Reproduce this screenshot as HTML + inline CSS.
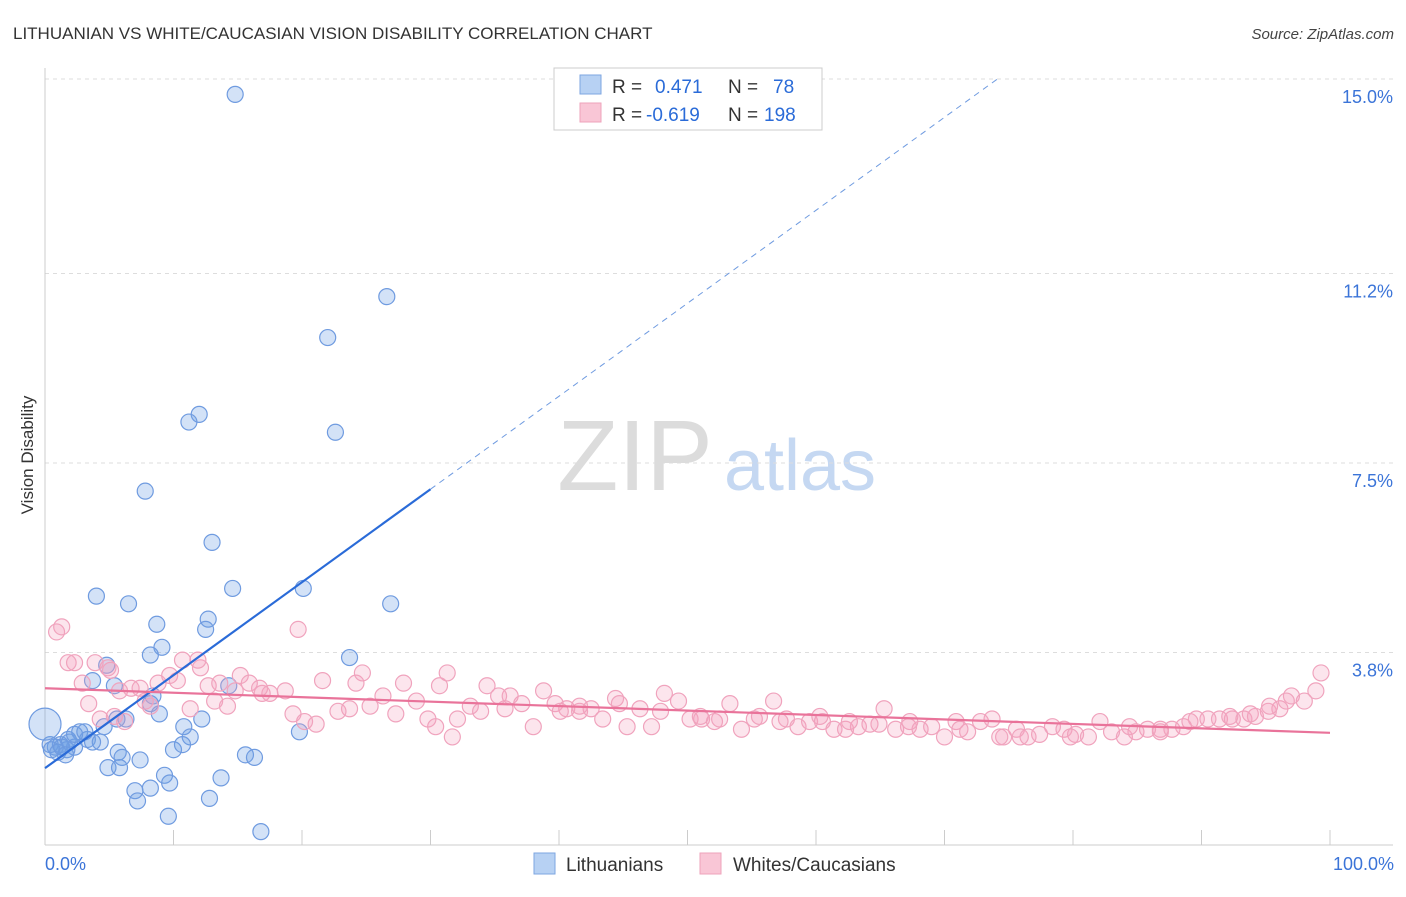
<!DOCTYPE html>
<html><head><meta charset="utf-8"><style>
body{margin:0;background:#fff;font-family:"Liberation Sans",sans-serif;}
svg text{font-family:"Liberation Sans",sans-serif;}
</style></head><body>
<svg id="chart" width="1406" height="892" xmlns="http://www.w3.org/2000/svg">
<text x="13" y="39" font-size="17" fill="#333">LITHUANIAN VS WHITE/CAUCASIAN VISION DISABILITY CORRELATION CHART</text>
<text x="1394" y="39" font-size="15" fill="#444" text-anchor="end" font-style="italic">Source: ZipAtlas.com</text>
<g>
<text x="635" y="490" font-size="100" fill="#dcdcdc" font-family="Liberation Serif" text-anchor="middle">ZIP</text>
<text x="800" y="490" font-size="72" fill="#c5d8f2" text-anchor="middle">atlas</text>
</g>
<g id="grid"></g>
<g id="axes"></g>
<g id="blue"></g>
<g id="pink"></g>
<g id="lines"></g>
<text transform="translate(33,455) rotate(-90)" font-size="17" fill="#333" text-anchor="middle">Vision Disability</text>
<g>
<rect x="554" y="68" width="268" height="62" fill="#fff" stroke="#ccc"/>
<rect x="580" y="75" width="21" height="19" fill="#b7d1f3" stroke="#7ea6e0"/>
<rect x="580" y="103" width="21" height="19" fill="#f9c6d6" stroke="#eea3bb"/>
<text x="612" y="93" font-size="19" fill="#333">R =</text>
<text x="655" y="93" font-size="19" fill="#2a6bd8">0.471</text>
<text x="728" y="93" font-size="19" fill="#333">N =</text>
<text x="773" y="93" font-size="19" fill="#2a6bd8">78</text>
<text x="612" y="121" font-size="19" fill="#333">R =</text>
<text x="646" y="121" font-size="19" fill="#2a6bd8">-0.619</text>
<text x="728" y="121" font-size="19" fill="#333">N =</text>
<text x="764" y="121" font-size="19" fill="#2a6bd8">198</text>
</g>
<g>
<rect x="534" y="853" width="21" height="21" fill="#b7d1f3" stroke="#7ea6e0"/>
<text x="566" y="871" font-size="19" fill="#333">Lithuanians</text>
<rect x="700" y="853" width="21" height="21" fill="#f9c6d6" stroke="#eea3bb"/>
<text x="733" y="871" font-size="19" fill="#333">Whites/Caucasians</text>
</g>
<text x="45" y="870" font-size="18" fill="#3b74d8">0.0%</text>
<text x="1394" y="870" font-size="18" fill="#3b74d8" text-anchor="end">100.0%</text>
</svg>
<script>
const yTicks=[15.0,11.2,7.5,3.8];
const yTickLabels=["15.0%","11.2%","7.5%","3.8%"];
const xTicks=[0,10,20,30,40,50,60,70,80,90,100];
const blueX=[14.8,26.6,22.0,12.0,11.2,22.6,7.8,13.0,14.6,20.1,26.9,4.0,6.5,8.7,12.7,12.5,9.1,8.2,23.7,4.8,3.7,5.4,8.4,8.2,8.9,14.3,5.6,6.3,12.2,10.8,11.3,4.6,19.8,1.2,1.8,2.3,0.8,2.7,3.3,4.3,1.7,5.7,6.0,7.4,10.0,10.7,15.6,16.3,4.9,5.8,9.3,13.7,9.7,8.2,7.0,7.2,12.8,9.6,16.8,0.4,0.5,1.0,1.3,1.9,2.3,3.1,3.7,1.6,0];
const blueY=[14.7,10.75,9.95,8.45,8.3,8.1,6.95,5.95,5.05,5.05,4.75,4.9,4.75,4.35,4.45,4.25,3.9,3.75,3.7,3.55,3.25,3.15,2.95,2.8,2.6,3.15,2.5,2.5,2.5,2.35,2.15,2.35,2.25,2.0,2.1,1.95,1.95,2.25,2.1,2.05,1.9,1.85,1.75,1.7,1.9,2.0,1.8,1.75,1.55,1.55,1.4,1.35,1.25,1.15,1.1,0.9,0.95,0.6,0.3,2.0,1.9,1.85,1.95,2.05,2.2,2.25,2.05,1.8,2.4];
const pinkX=[0.9,1.3,1.8,2.3,2.9,3.4,3.9,4.3,4.9,5.4,5.8,6.2,6.7,7.4,7.8,8.2,8.8,9.7,10.3,10.7,11.3,12.1,12.7,13.2,13.6,14.2,14.8,15.2,15.9,16.9,17.5,18.7,19.3,19.7,20.2,21.1,21.6,22.8,23.7,24.2,24.7,25.3,26.3,27.3,27.9,28.9,29.8,30.4,30.7,31.3,31.7,32.1,33.1,34.4,35.3,36.2,37.1,38.0,38.8,39.7,40.6,41.6,42.5,43.4,44.4,45.3,46.3,47.2,48.2,49.3,50.2,51.1,52.1,53.3,54.2,55.2,56.7,57.7,58.6,59.5,60.5,61.4,62.3,63.3,64.2,65.3,66.2,67.2,68.1,69.0,70.0,70.9,71.8,72.8,73.7,74.6,75.6,76.5,77.4,78.4,79.3,80.2,81.2,82.1,83.0,84.0,84.9,85.8,86.8,87.7,88.6,89.6,90.5,91.4,92.4,93.3,94.2,95.2,96.1,97.0,98.0,98.9,99.3,40.1,44.7,51.0,55.6,60.3,62.6,67.3,71.2,75.9,79.8,84.4,89.1,93.8,96.6,47.9,52.5,57.2,64.9,74.3,86.8,92.2,95.3,41.6,33.9,35.8,16.7,11.9,5.1];
const pinkY=[4.2,4.3,3.6,3.6,3.2,2.8,3.6,2.5,3.5,2.55,3.05,2.45,3.1,3.1,2.85,2.75,3.2,3.35,3.25,3.65,2.7,3.5,3.15,2.85,3.2,2.75,3.05,3.35,3.2,3.0,3.0,3.05,2.6,4.25,2.45,2.4,3.25,2.65,2.7,3.2,3.4,2.75,2.95,2.6,3.2,2.85,2.5,2.35,3.15,3.4,2.15,2.5,2.75,3.15,2.95,2.95,2.8,2.35,3.05,2.8,2.7,2.65,2.7,2.5,2.9,2.35,2.7,2.35,3.0,2.85,2.5,2.5,2.45,2.8,2.3,2.5,2.85,2.5,2.35,2.45,2.45,2.3,2.3,2.35,2.4,2.7,2.3,2.35,2.3,2.35,2.15,2.45,2.25,2.45,2.5,2.15,2.3,2.15,2.2,2.35,2.3,2.2,2.15,2.45,2.25,2.15,2.25,2.3,2.3,2.3,2.35,2.5,2.5,2.5,2.5,2.5,2.55,2.65,2.7,2.95,2.85,3.05,3.4,2.65,2.8,2.55,2.55,2.55,2.45,2.45,2.3,2.15,2.15,2.35,2.45,2.6,2.85,2.65,2.5,2.45,2.4,2.15,2.25,2.55,2.75,2.75,2.65,2.7,3.1,3.65,3.45];
const blueTrend=[1.54,19.7];
const pinkTrend=[3.1,2.23];
const ns="http://www.w3.org/2000/svg";
const X0=45,X1=1330,Y0=847,PPU=51.2;
function sx(v){return X0+(X1-X0)*v/100;}
function sy(v){return Y0-v*PPU;}
function mk(tag,attrs,parent){const e=document.createElementNS(ns,tag);for(const k in attrs)e.setAttribute(k,attrs[k]);parent.appendChild(e);return e;}
const grid=document.getElementById('grid'),axes=document.getElementById('axes');
yTicks.forEach((t,i)=>{
 const l=mk('line',{x1:45,x2:1393,y1:sy(t),y2:sy(t),stroke:'#ddd','stroke-dasharray':'4,4'},grid);
 
 
 const tx=mk('text',{x:1393,y:sy(t)+24,'font-size':18,fill:'#3b74d8','text-anchor':'end'},grid);
 tx.textContent=yTickLabels[i];
 
 
});
mk('line',{x1:45,x2:45,y1:68,y2:845,stroke:'#ccc'},axes);
mk('line',{x1:45,x2:1393,y1:845,y2:845,stroke:'#ccc'},axes);
xTicks.forEach(t=>{
 const l=mk('line',{x1:sx(t),x2:sx(t),y1:830,y2:845,stroke:'#ccc'},axes);
 
 
});
const pg=document.getElementById('pink');
pinkX.forEach((x,i)=>{
 const c=mk('circle',{cx:sx(x),cy:sy(pinkY[i]),r:8,fill:'rgba(244,160,190,0.28)',stroke:'#f0a3bd','stroke-width':1.2},pg);
 
 
});
const bg=document.getElementById('blue');
blueX.forEach((x,i)=>{
 const big=(i===blueX.length-1);
 const c=mk('circle',{cx:sx(x),cy:sy(blueY[i]),r:big?16:8,fill:'rgba(110,160,230,0.3)',stroke:'#6f9be0','stroke-width':1.2},bg);
 
 
});
const lg=document.getElementById('lines');
function bAt(x){return blueTrend[0]+(blueTrend[1]-blueTrend[0])*x/100;}
const b1=mk('line',{x1:sx(0),y1:sy(bAt(0)),x2:sx(30),y2:sy(bAt(30)),stroke:'#2a6bd8','stroke-width':2.2},lg);


let xe=(15.0-blueTrend[0])/(blueTrend[1]-blueTrend[0])*100;
const b2=mk('line',{x1:sx(30),y1:sy(bAt(30)),x2:sx(xe),y2:sy(bAt(xe)),stroke:'#6f9be0','stroke-width':1,'stroke-dasharray':'6,5'},lg);


const p1=mk('line',{x1:sx(0),y1:sy(pinkTrend[0]),x2:sx(100),y2:sy(pinkTrend[1]),stroke:'#e9739a','stroke-width':2.2},lg);


</script>
</body></html>
